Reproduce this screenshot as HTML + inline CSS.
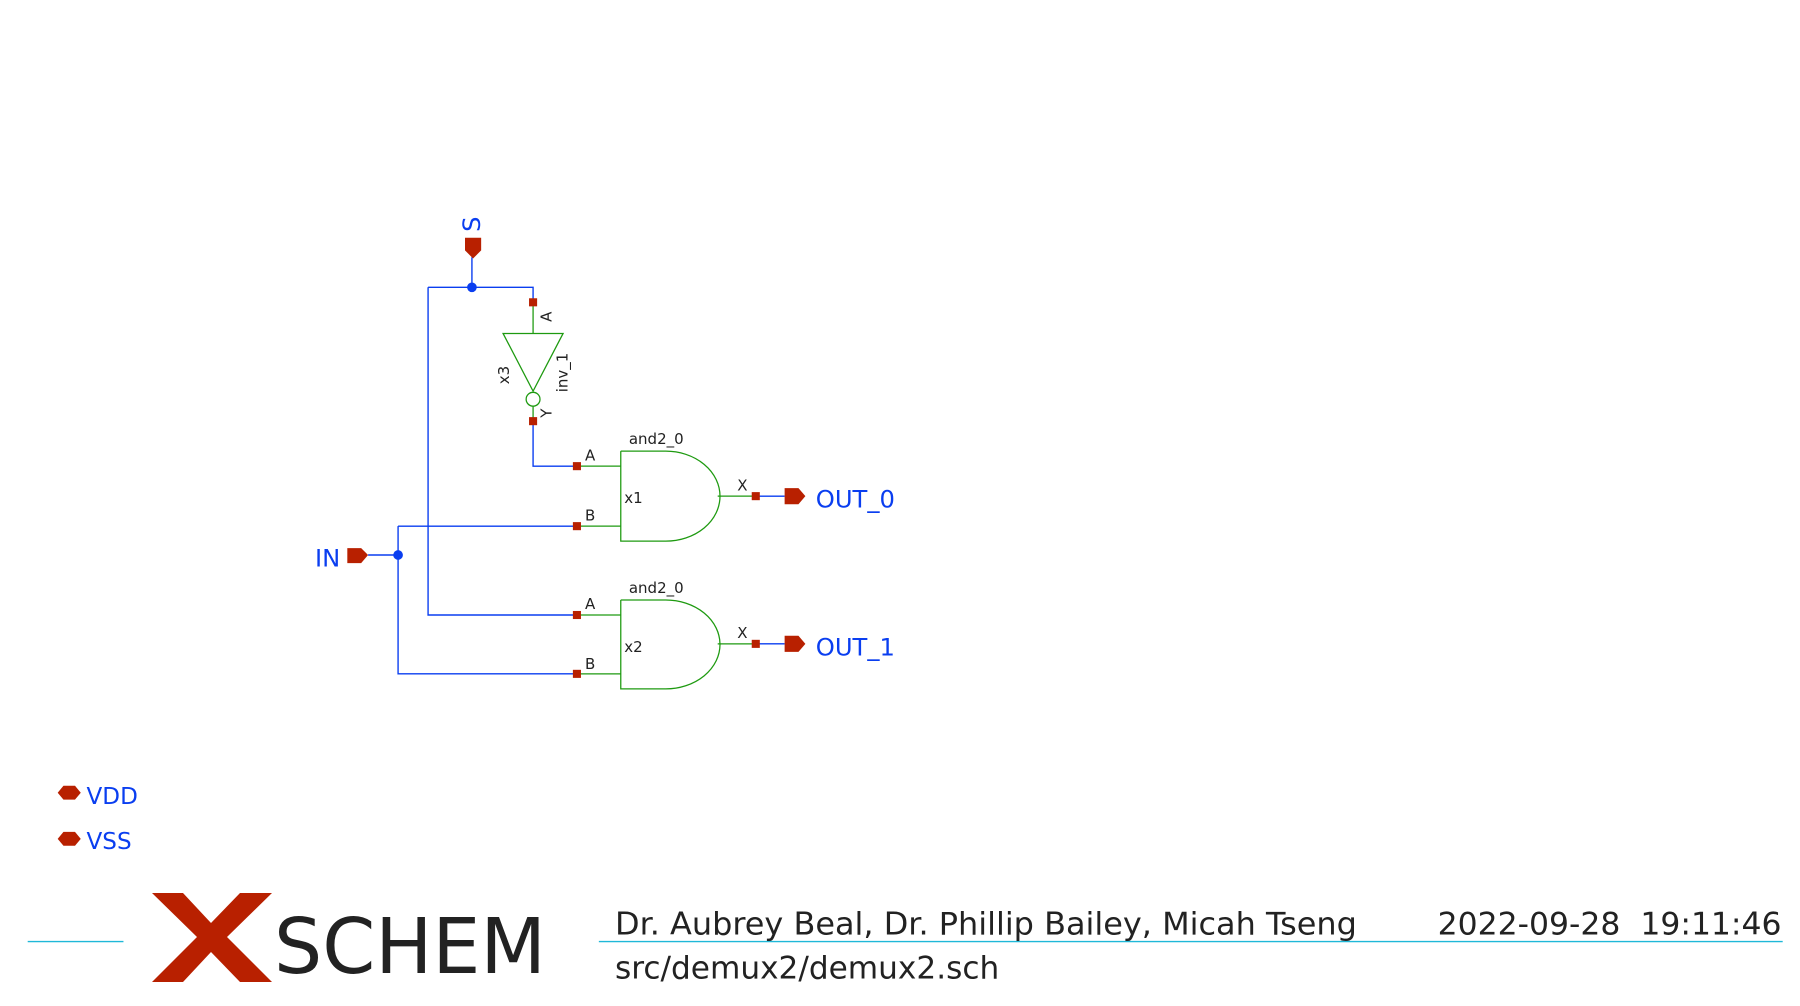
<!DOCTYPE html>
<html><head><meta charset="utf-8"><style>html,body{margin:0;padding:0;background:#fff}svg{display:block}</style></head>
<body>
<svg width="1800" height="1006" viewBox="0 0 1800 1006" xmlns="http://www.w3.org/2000/svg" font-family="DejaVu Sans, Liberation Sans, sans-serif">
<g transform="scale(1.15385)">
<g stroke="#0a3ef0" stroke-width="1.2" fill="none">
<path d="M409 223V249M371 249H462V262M371 249V533H500M462 365V404H500M345 456H500M319 481H345M345 456V584H500M655 430H680M655 558H680"/>
</g>
<g fill="#0a3ef0"><circle cx="409" cy="249" r="4.2"/><circle cx="345" cy="481" r="4.2"/></g>
<g stroke="#1e9a10" stroke-width="1.1" fill="none">
<path d="M462 262V289M436 289H488L462 339Z"/><circle cx="462" cy="346" r="6"/><path d="M462 352V365"/>
<path d="M500 404H538M500 456H538M538 391V469H577A47 39 0 0 0 577 391H538M622 430H655"/>
<path d="M500 533H538M500 584H538M538 520V597H577A47 38.5 0 0 0 577 520H538M622 558H655"/>
</g>
<g fill="#b82000">
<rect x="458.5" y="258.5" width="7" height="7"/><rect x="458.5" y="361.5" width="7" height="7"/>
<rect x="496.5" y="400.5" width="7" height="7"/><rect x="496.5" y="452.5" width="7" height="7"/>
<rect x="651.5" y="426.5" width="7" height="7"/>
<rect x="496.5" y="529.5" width="7" height="7"/><rect x="496.5" y="580.5" width="7" height="7"/>
<rect x="651.5" y="554.5" width="7" height="7"/>
<path d="M403 206H417V217L410 224L403 217Z"/>
<path d="M301 475H313L319 481L313 488H301Z"/>
<path d="M680 423H692L698 430L692 437H680Z"/>
<path d="M680 551H692L698 558L692 565H680Z"/>
<path d="M50 687L55 681H65L70 687L65 693H55Z"/>
<path d="M50 727L55 721H65L70 727L65 733H55Z"/>
</g>
<g fill="#0a3ef0" font-size="21">
<text transform="translate(416,201) rotate(-90)">S</text>
<text x="273" y="491">IN</text>
<text x="707" y="440">OUT_0</text>
<text x="707" y="568">OUT_1</text>
<text x="75" y="697" font-size="20">VDD</text>
<text x="75" y="736" font-size="20">VSS</text>
</g>
<g fill="#222" font-size="13">
<text x="545" y="385">and2_0</text><text x="507" y="399">A</text><text x="507" y="451">B</text><text x="541" y="436">x1</text><text x="639" y="425">X</text>
<text x="545" y="514">and2_0</text><text x="507" y="528">A</text><text x="507" y="580">B</text><text x="541" y="565">x2</text><text x="639" y="553">X</text>
<text transform="translate(478,279) rotate(-90)">A</text>
<text transform="translate(441,333) rotate(-90)">x3</text>
<text transform="translate(492,340) rotate(-90)">inv_1</text>
<text transform="translate(478,362) rotate(-90)">Y</text>
</g>
<g stroke="#1fb8d8" stroke-width="1.2"><path d="M24 816H107M519 816H1545"/></g>
<g fill="#222" font-size="27">
<text x="533" y="810" textLength="643" lengthAdjust="spacingAndGlyphs">Dr. Aubrey Beal, Dr. Phillip Bailey, Micah Tseng</text>
<text x="1246" y="810" textLength="298" lengthAdjust="spacingAndGlyphs" xml:space="preserve">2022-09-28  19:11:46</text>
<text x="533" y="848" textLength="333" lengthAdjust="spacingAndGlyphs">src/demux2/demux2.sch</text>
</g>
</g>
<path fill="#b82000" d="M152 893H183L211 923L240 893H272L227 937L272 982H240L211 952L183 982H152L197 937Z"/>
<text x="274" y="973" font-size="77" fill="#222" textLength="272" lengthAdjust="spacingAndGlyphs">SCHEM</text>
</svg>
</body></html>
